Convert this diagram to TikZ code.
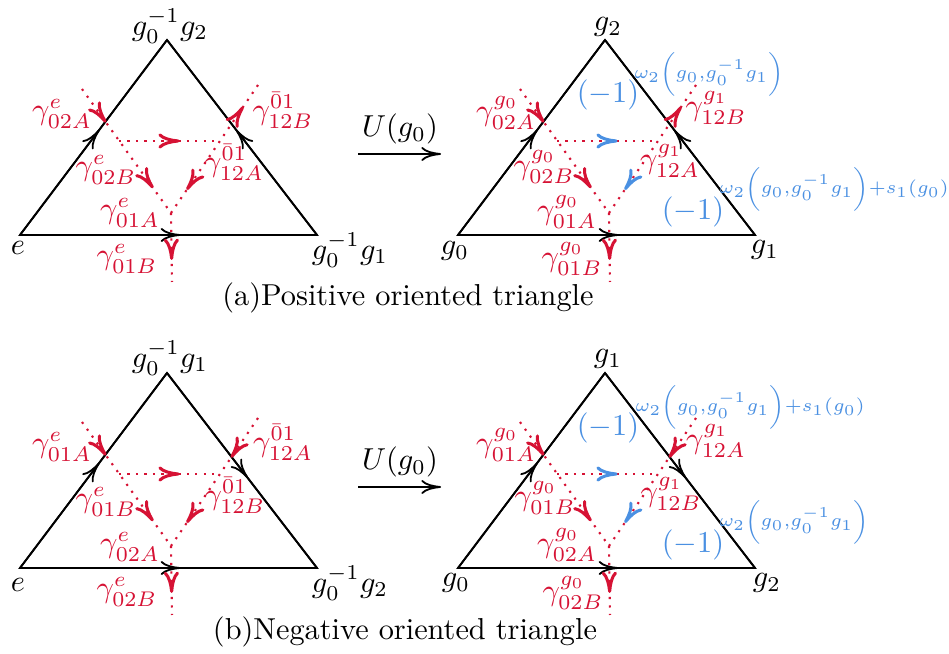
\documentclass[tikz,border=0pt]{standalone}
\usepackage{amsmath}
\usetikzlibrary{arrows.meta,decorations.markings}
\definecolor{myred}{RGB}{214,18,52}
\definecolor{myblue}{RGB}{74,144,226}
\newcommand\PanelGeom[5]{%
  \begin{scope}[shift={(#2,#3)}]
    \coordinate (#1A) at (0,0);
    \coordinate (#1T) at (147,-195);
    \coordinate (#1C) at (297,0);
    \coordinate (#1p) at (62,-146);
    \coordinate (#1q) at (238,-150);
    \coordinate (#1b) at (151,-22);
    \coordinate (#1d) at (152,47);
    \coordinate (#1hl) at (99,-94);
    \coordinate (#1hr) at (200,-94);
  \end{scope}
  \draw[edge] (#1A) -- (#1T) -- (#1C) -- cycle;
  \draw[edge, marr=0.54] (#1A) -- (#1T);
  \draw[edge, marr=0.54] (#1A) -- (#1C);
  \ifnum#4=0
    \draw[edge, marr=0.54] (#1C) -- (#1T);
    \draw[dline, postaction={decorate}, decoration={markings,
      mark=at position 0.17 with {\arrowreversed{rtip}},
      mark=at position 0.82 with {\arrow[#5]{rtip}}}] (#1q) -- (#1b);
  \else
    \draw[edge, marr=0.54] (#1T) -- (#1C);
    \draw[dline, postaction={decorate}, decoration={markings,
      mark=at position 0.31 with {\arrow{rtip}},
      mark=at position 0.82 with {\arrow[#5]{rtip}}}] (#1q) -- (#1b);
  \fi
  \draw[dline, postaction={decorate}, decoration={markings,
    mark=at position 0.27 with {\arrow{rtip}},
    mark=at position 0.8 with {\arrow{rtip}}}] (#1p) -- (#1b);
  \draw[dline, postaction={decorate}, decoration={markings,
    mark=at position 0.6 with {\arrow[#5]{rtip}}}] (#1hl) -- (#1hr);
  \draw[dline, postaction={decorate}, decoration={markings,
    mark=at position 0.68 with {\arrow{rtip}}}] (#1b) -- (#1d);
}
\tikzset{
  rtip/.tip={Computer Modern Rightarrow[length=7pt,width=5pt,line width=1pt]},
  btip/.tip={Computer Modern Rightarrow[length=6.5pt,width=4.6pt,line width=0.6pt]}
}
\begin{document}
\begin{tikzpicture}[x=0.33pt,y=-0.33pt,
  >={btip},
  edge/.style={line width=0.6pt, black},
  marr/.style={postaction={decorate}, decoration={markings, mark=at position #1 with {\arrow{btip}}}},
  dline/.style={myred, line width=0.7pt, dash pattern=on 0.7pt off 2.1pt},
  rl/.style={text=myred, inner sep=0pt},
  bl/.style={text=myblue, inner sep=0pt},
  wl/.style={text=myblue, inner sep=0pt, font=\fontsize{6}{7}\selectfont},
  vl/.style={inner sep=0pt}]
\useasboundingbox (0,0) rectangle (949,654);

% ---------- (a) left ----------
\PanelGeom{a}{20}{235}{0}{myred}
\node[vl] (aTl) at (170,26) {$g^{-1}_0g_2$};
\node[vl] (aAl) at (18,248) {$e$};
\node[vl] (aCl) at (350,250) {$g^{-1}_0g_1$};
\node[rl] (a1) at (62,114) {$\gamma^{e}_{02A}$};
\node[rl] (a2) at (106,170) {$\gamma^{e}_{02B}$};
\node[rl] (a3) at (130,213) {$\gamma^{e}_{01A}$};
\node[rl] (a4) at (127,259) {$\gamma^{e}_{01B}$};
\node[rl] (a5) at (283,110) {$\gamma^{\bar{0}1}_{12B}$};
\node[rl] (a6) at (234,162) {$\gamma^{\bar{0}1}_{12A}$};

% ---------- (a) arrow ----------
\coordinate (ua1) at (358,154);
\coordinate (ua2) at (441,154);
\draw[edge, ->] (ua1) -- (ua2);
\node[vl] (ua) at (400,129) {$U(g_0)$};

% ---------- (a) right ----------
\PanelGeom{c}{458}{235}{0}{myblue}
\node[vl] (cTl) at (608,27) {$g_2$};
\node[vl] (cAl) at (455,251) {$g_0$};
\node[vl] (cCl) at (765,250) {$g_1$};
\node[rl] (c1) at (506,113) {$\gamma^{g_0}_{02A}$};
\node[rl] (c2) at (544,167) {$\gamma^{g_0}_{02B}$};
\node[rl] (c3) at (567,212) {$\gamma^{g_0}_{01A}$};
\node[rl] (c4) at (572,259) {$\gamma^{g_0}_{01B}$};
\node[rl] (c5) at (716,108) {$\gamma^{g_1}_{12B}$};
\node[rl] (c6) at (670,161) {$\gamma^{g_1}_{12A}$};
\node[bl] (cm1) at (608,95) {$(-1)$};
\node[bl] (cm2) at (693,212) {$(-1)$};
\node[wl] (cw1) at (709,74) {$\omega_2\bigg(g_0{,}g^{-1}_0g_1\bigg)$};
\node[wl] (cw2) at (834,189) {$\omega_2\bigg(g_0{,}g^{-1}_0g_1\bigg){+}s_1(g_0)$};

\node (capa) at (408,298) {(a)Positive oriented triangle};

% ---------- (b) left ----------
\PanelGeom{b}{20}{568}{1}{myred}
\node[vl] (bTl) at (170,358) {$g^{-1}_0g_1$};
\node[vl] (bAl) at (18,585) {$e$};
\node[vl] (bCl) at (350,583) {$g^{-1}_0g_2$};
\node[rl] (b1) at (62,447) {$\gamma^{e}_{01A}$};
\node[rl] (b2) at (106,502) {$\gamma^{e}_{01B}$};
\node[rl] (b3) at (130,547) {$\gamma^{e}_{02A}$};
\node[rl] (b4) at (127,592) {$\gamma^{e}_{02B}$};
\node[rl] (b5) at (283,442) {$\gamma^{\bar{0}1}_{12A}$};
\node[rl] (b6) at (235,495) {$\gamma^{\bar{0}1}_{12B}$};

% ---------- (b) arrow ----------
\coordinate (ub1) at (358,487);
\coordinate (ub2) at (441,487);
\draw[edge, ->] (ub1) -- (ub2);
\node[vl] (ub) at (400,462) {$U(g_0)$};

% ---------- (b) right ----------
\PanelGeom{d}{458}{568}{1}{myblue}
\node[vl] (dTl) at (608,359) {$g_1$};
\node[vl] (dAl) at (456,583) {$g_0$};
\node[vl] (dCl) at (767,583) {$g_2$};
\node[rl] (d1) at (506,445) {$\gamma^{g_0}_{01A}$};
\node[rl] (d2) at (545,498) {$\gamma^{g_0}_{01B}$};
\node[rl] (d3) at (567,545) {$\gamma^{g_0}_{02A}$};
\node[rl] (d4) at (573,593) {$\gamma^{g_0}_{02B}$};
\node[rl] (d5) at (716,441) {$\gamma^{g_1}_{12A}$};
\node[rl] (d6) at (671,494) {$\gamma^{g_1}_{12B}$};
\node[bl] (dm1) at (608,428) {$(-1)$};
\node[bl] (dm2) at (693,545) {$(-1)$};
\node[wl] (dw1) at (750,407) {$\omega_2\bigg(g_0{,}g^{-1}_0g_1\bigg){+}s_1(g_0)$};
\node[wl] (dw2) at (794,522) {$\omega_2\bigg(g_0{,}g^{-1}_0g_1\bigg)$};

\node (capb) at (405,632) {(b)Negative oriented triangle};
\end{tikzpicture}
\end{document}
